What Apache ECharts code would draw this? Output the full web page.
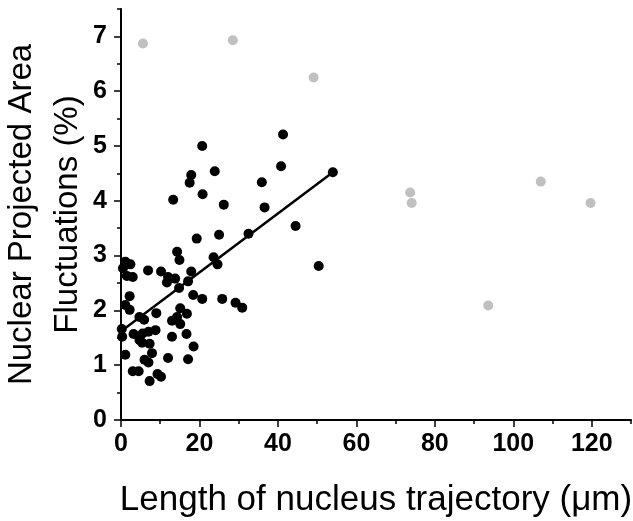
<!DOCTYPE html>
<html><head><meta charset="utf-8">
<script src="https://cdn.jsdelivr.net/npm/echarts@6/dist/echarts.min.js"></script>
<style>html,body{margin:0;padding:0;background:#fff}#c{width:633px;height:521px}</style>
</head><body><div id="c"></div>
<script>
// Black points (included in fit)
const blackX = [13.3,20.7,17.9,17.5,20.8,23.9,26.2,35.9,36.6,41.3,40.8,54.0,
  44.5,19.3,25.0,32.5,50.4,14.3,14.9,23.6,24.6,17.9,17.1,14.8,13.8,11.7,12.0,10.2,6.9,
  1.1,2.4,0.5,1.5,3.0,2.2,18.4,20.7,25.8,29.2,30.9,1.1,2.2,15.1,16.8,9.0,4.7,5.9,14.3,
  13.0,15.1,0.2,0.3,3.2,5.5,7.0,8.8,4.7,5.4,7.3,13.0,16.7,18.5,7.9,1.1,6.0,7.0,12.0,17.1,
  3.0,4.5,9.3,10.2,7.3];
const blackY = [4.02,5.00,4.47,4.33,4.12,4.54,3.93,4.34,3.88,5.21,4.63,4.52,
  3.54,3.31,3.38,3.40,2.81,3.07,2.92,2.97,2.84,2.71,2.53,2.41,2.58,2.51,2.61,2.71,2.73,
  2.89,2.84,2.77,2.63,2.61,2.26,2.28,2.21,2.21,2.14,2.05,2.10,2.01,2.04,1.94,1.95,1.88,1.83,1.88,
  1.81,1.75,1.66,1.52,1.57,1.58,1.61,1.64,1.46,1.41,1.39,1.52,1.57,1.34,1.22,1.19,1.10,1.05,1.13,1.11,
  0.89,0.89,0.84,0.79,0.71];
// Gray points (excluded)
const grayX = [5.6,28.5,49.1,73.7,74.1,93.6,107.0,119.7];
const grayY = [6.87,6.93,6.25,4.15,3.96,2.09,4.35,3.96];
// Fit line
const fitX = [0.2,54.0];
const fitY = [1.63,4.52];
// Ticks
const xMajor = [0,20,40,60,80,100,120];
const xMinor = [10,30,50,70,90,110,130];
const yMajor = [0,1,2,3,4,5,6,7];
const yMinor = [0.5,1.5,2.5,3.5,4.5,5.5,6.5,7.5];

const zip = (a,b) => a.map((v,i)=>[v,b[i]]);
const FONT = 'Liberation Sans, Arial, sans-serif';
const chart = echarts.init(document.getElementById('c'), null, {renderer:'canvas'});
const baseAxis = (min,max) => ({type:'value',min:min,max:max,splitLine:{show:false}});
chart.setOption({
  animation:false,
  backgroundColor:'#fff',
  grid:{left:121,right:2,top:9,bottom:101,outerBoundsMode:'none',containLabel:false},
  xAxis:[
    Object.assign(baseAxis(0,130),{
      interval:10,
      axisLine:{show:true,lineStyle:{color:'#000',width:2}},
      axisTick:{show:true,length:7,lineStyle:{color:'#000',width:1.5},customValues:xMajor},
      axisLabel:{show:true,customValues:xMajor,margin:12,color:'#000',fontFamily:FONT,fontWeight:'bold',fontSize:25},
      name:'Length of nucleus trajectory (\u03bcm)',nameLocation:'middle',nameGap:63,nameMoveOverlap:false,
      nameTextStyle:{color:'#000',fontFamily:FONT,fontSize:35}
    }),
    Object.assign(baseAxis(0,130),{
      interval:10,position:'bottom',
      axisLine:{show:false},
      axisTick:{show:true,length:4,lineStyle:{color:'#000',width:1.5},customValues:xMinor},
      axisLabel:{show:false}
    })
  ],
  yAxis:[
    Object.assign(baseAxis(0,7.5),{
      interval:0.5,
      axisLine:{show:true,lineStyle:{color:'#000',width:2}},
      axisTick:{show:true,length:7,lineStyle:{color:'#000',width:1.5},customValues:yMajor},
      axisLabel:{show:true,customValues:yMajor,margin:14,color:'#000',fontFamily:FONT,fontWeight:'bold',fontSize:25},
      name:'Nuclear Projected Area\nFluctuations (%)',nameLocation:'middle',nameRotate:90,nameGap:30,nameMoveOverlap:false,
      nameTextStyle:{color:'#000',fontFamily:FONT,fontSize:33,lineHeight:46,align:'center'}
    }),
    Object.assign(baseAxis(0,7.5),{
      interval:0.5,position:'left',
      axisLine:{show:false},
      axisTick:{show:true,length:4,lineStyle:{color:'#000',width:1.5},customValues:yMinor},
      axisLabel:{show:false}
    })
  ],
  series:[
    {type:'scatter',data:zip(grayX,grayY),symbolSize:10,itemStyle:{color:'#c0c0c0',opacity:1},z:2},
    {type:'scatter',data:zip(blackX,blackY),symbolSize:10,itemStyle:{color:'#000',opacity:1},z:3},
    {type:'line',data:zip(fitX,fitY),showSymbol:false,symbol:'none',lineStyle:{color:'#000',width:2.5},z:4}
  ]
});
</script>
</body></html>
